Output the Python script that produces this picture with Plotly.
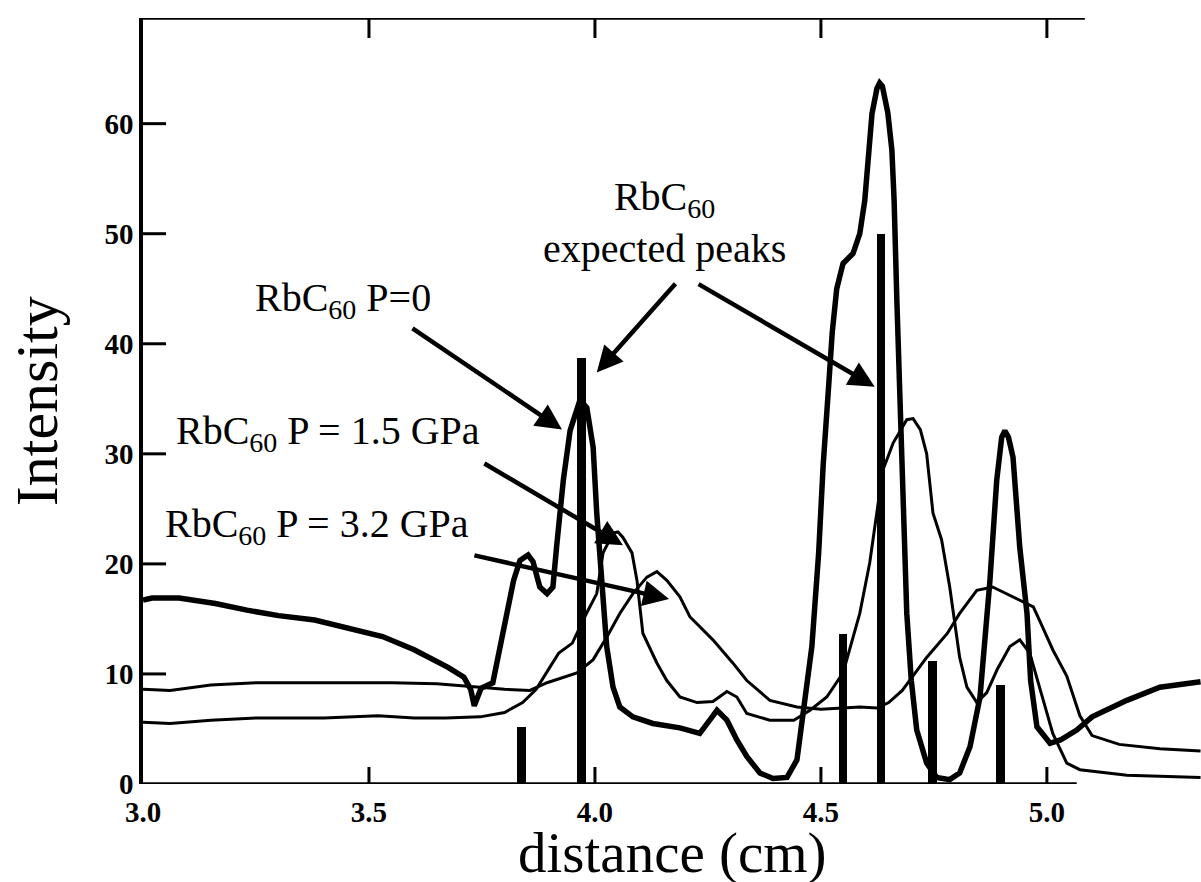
import plotly.graph_objects as go

# --- measured scans: distance (cm) vs intensity ---
x_p0 = [3.00, 3.02, 3.08, 3.16, 3.23, 3.30, 3.38, 3.45, 3.53, 3.60, 3.675, 3.71, 3.725, 3.733,
        3.748, 3.774, 3.79, 3.805, 3.82, 3.834, 3.852, 3.863, 3.878, 3.894, 3.907, 3.915, 3.93,
        3.945, 3.96, 3.967, 3.982, 3.996, 4.004, 4.015, 4.026, 4.04, 4.055, 4.084, 4.128, 4.188,
        4.232, 4.254, 4.27, 4.292, 4.314, 4.336, 4.365, 4.394, 4.425, 4.447, 4.46, 4.48, 4.495,
        4.505, 4.518, 4.525, 4.535, 4.549, 4.571, 4.586, 4.597, 4.608, 4.613, 4.624, 4.630, 4.636,
        4.648, 4.657, 4.662, 4.668, 4.675, 4.682, 4.69, 4.70, 4.712, 4.734, 4.756, 4.785, 4.807,
        4.83, 4.852, 4.874, 4.889, 4.90, 4.907, 4.915, 4.925, 4.94, 4.956, 4.964, 4.978, 5.007,
        5.03, 5.066, 5.10, 5.177, 5.25, 5.34]
y_p0 = [16.7, 16.9, 16.9, 16.4, 15.8, 15.3, 14.9, 14.2, 13.4, 12.2, 10.6, 9.7, 8.6, 7.1,
        8.7, 9.2, 12.5, 15.5, 18.5, 20.3, 20.8, 20.2, 17.9, 17.3, 17.9, 21.5, 27.6,
        32.1, 34.2, 34.9, 34.2, 30.6, 24.6, 18.5, 12.5, 8.8, 7.0, 6.1, 5.5, 5.1,
        4.6, 5.8, 6.7, 5.8, 4.0, 2.5, 1.0, 0.5, 0.6, 2.2, 6.4, 12.5, 21.0,
        29.0, 36.7, 41.0, 45.0, 47.3, 48.2, 50.0, 53.0, 58.5, 60.9, 63.2, 63.7, 63.4,
        61.0, 57.6, 53.0, 44.0, 35.0, 24.6, 15.5, 9.4, 4.9, 1.9, 0.6, 0.4, 1.0,
        3.4, 7.9, 18.5, 27.6, 31.5, 32.1, 31.5, 29.7, 21.5, 15.5, 9.4, 5.2, 3.7,
        4.0, 4.9, 6.1, 7.6, 8.8, 9.3]

x_p15 = [3.00, 3.06, 3.15, 3.25, 3.40, 3.52, 3.60, 3.67, 3.746, 3.80, 3.84, 3.87, 3.90, 3.92,
         3.95, 3.98, 4.004, 4.018, 4.04, 4.051, 4.062, 4.082, 4.093, 4.106, 4.137, 4.159, 4.188,
         4.226, 4.261, 4.292, 4.314, 4.336, 4.387, 4.44, 4.476, 4.513, 4.549, 4.586, 4.608, 4.624,
         4.637, 4.66, 4.69, 4.704, 4.72, 4.734, 4.748, 4.767, 4.785, 4.807, 4.823, 4.845, 4.867,
         4.89, 4.918, 4.94, 4.962, 4.99, 5.013, 5.044, 5.073, 5.177, 5.34]
y_p15 = [5.6, 5.5, 5.8, 6.0, 6.0, 6.2, 6.0, 6.0, 6.1, 6.5, 7.4, 8.6, 10.6, 11.9,
         12.8, 15.4, 17.3, 21.0, 22.8, 22.9, 22.4, 21.0, 18.5, 13.7, 11.0, 9.4, 7.9,
         7.4, 7.5, 8.4, 7.9, 6.4, 5.8, 5.8, 6.7, 7.9, 10.1, 15.5, 20.1, 24.6,
         28.5, 31.0, 33.1, 33.2, 32.2, 30.0, 24.6, 22.2, 17.9, 11.5, 8.8, 7.4, 8.3,
         10.4, 12.5, 13.1, 11.9, 7.9, 4.6, 1.9, 1.3, 0.8, 0.6]

x_p32 = [3.00, 3.06, 3.15, 3.25, 3.40, 3.55, 3.65, 3.746, 3.80, 3.856, 3.894, 3.96, 3.996, 4.027,
         4.055, 4.084, 4.115, 4.137, 4.159, 4.188, 4.21, 4.261, 4.305, 4.336, 4.387, 4.447, 4.50,
         4.586, 4.624, 4.65, 4.68, 4.734, 4.78, 4.807, 4.845, 4.88, 4.925, 4.97, 4.99, 5.013,
         5.044, 5.073, 5.10, 5.16, 5.25, 5.34]
y_p32 = [8.6, 8.5, 9.0, 9.2, 9.2, 9.2, 9.1, 8.8, 8.6, 8.5, 9.2, 10.1, 11.3, 13.4,
         15.5, 17.3, 18.8, 19.3, 18.5, 17.0, 15.2, 13.1, 11.0, 9.4, 7.6, 7.0, 6.8,
         7.0, 6.9, 7.4, 8.5, 11.5, 13.7, 15.5, 17.6, 17.9, 17.0, 16.1, 14.3, 12.2,
         9.8, 6.2, 4.4, 3.6, 3.2, 3.0]

# expected RbC60 reflections (position, relative height)
peak_pos = [3.838, 3.970, 4.549, 4.633, 4.747, 4.897]
peak_height = [5.2, 38.7, 13.6, 50.0, 11.2, 9.0]

x_ticks = [3.0, 3.5, 4.0, 4.5, 5.0]
x_tick_text = ["3.0", "3.5", "4.0", "4.5", "5.0"]
y_ticks = [0, 10, 20, 30, 40, 50, 60]

X_RANGE = [3.0, 5.341]
Y_RANGE = [0, 69.6]
SERIF = "Liberation Serif, Times New Roman, serif"

# plot-area size in pixels, used to turn tick lengths into axis units
PLOT_W = 1201 - 143
PLOT_H = 882 - 18 - 98
X_PER_PX = (X_RANGE[1] - X_RANGE[0]) / PLOT_W
Y_PER_PX = (Y_RANGE[1] - Y_RANGE[0]) / PLOT_H

fig = go.Figure()

fig.add_trace(go.Bar(x=peak_pos, y=peak_height, width=0.019,
                     marker=dict(color="black", line=dict(width=0))))
fig.add_trace(go.Scatter(x=x_p32, y=y_p32, mode="lines",
                         line=dict(color="black", width=3)))
fig.add_trace(go.Scatter(x=x_p15, y=y_p15, mode="lines",
                         line=dict(color="black", width=3)))
fig.add_trace(go.Scatter(x=x_p0, y=y_p0, mode="lines",
                         line=dict(color="black", width=5.5)))

tick_font = dict(family=SERIF, size=29, color="black", weight="bold")

fig.update_layout(
    width=1201, height=882,
    margin=dict(l=143, r=0, t=18, b=98),
    paper_bgcolor="white", plot_bgcolor="white",
    showlegend=False, bargap=0,
    xaxis=dict(range=X_RANGE, tickmode="array", tickvals=x_ticks, ticktext=x_tick_text,
               ticks="", showline=False, showgrid=False, zeroline=False,
               tickfont=tick_font, ticklabelstandoff=8),
    yaxis=dict(range=Y_RANGE, tickmode="array", tickvals=y_ticks, ticks="",
               showline=True, linewidth=3.5, linecolor="black",
               showgrid=False, zeroline=False, tickfont=tick_font),
)

frame = dict(color="black", width=3.5)
tick_line = dict(color="black", width=3)

# bottom and top frame lines stop just past 5.0
fig.add_shape(type="line", xref="x", yref="y", x0=3.0, x1=5.066, y0=0, y1=0, line=frame)
fig.add_shape(type="line", xref="x", yref="y", x0=3.0, x1=5.084,
              y0=Y_RANGE[1], y1=Y_RANGE[1], line=frame)

# inward tick marks: left, bottom and top
for v in y_ticks[1:]:
    fig.add_shape(type="line", xref="x", yref="y", x0=X_RANGE[0], x1=X_RANGE[0] + 23 * X_PER_PX,
                  y0=v, y1=v, line=tick_line)
for v in x_ticks[1:]:
    fig.add_shape(type="line", xref="x", yref="y", x0=v, x1=v,
                  y0=0, y1=17 * Y_PER_PX, line=tick_line)
    fig.add_shape(type="line", xref="x", yref="y", x0=v, x1=v,
                  y0=Y_RANGE[1], y1=Y_RANGE[1] - 20 * Y_PER_PX, line=tick_line)

label_font = dict(family=SERIF, size=40, color="black")
labels = [
    (3.4436, 44.0, "RbC<sub>60</sub> P=0"),
    (3.409, 31.9, "RbC<sub>60</sub> P = 1.5 GPa"),
    (3.384, 23.4, "RbC<sub>60</sub> P = 3.2 GPa"),
    (4.155, 51.0, "RbC<sub>60</sub><br>expected peaks"),
]
for lx, ly, txt in labels:
    fig.add_annotation(x=lx, y=ly, xref="x", yref="y", text=txt, showarrow=False,
                       font=label_font, xanchor="center", yanchor="middle", align="center")

# arrows: (tail x, tail y, head x, head y)
arrows = [
    (3.593, 41.5, 3.927, 32.2),
    (3.752, 29.2, 4.062, 21.7),
    (3.730, 20.8, 4.164, 16.8),
    (4.181, 45.6, 4.004, 37.4),
    (4.226, 45.5, 4.619, 36.1),
]
for tx, ty, hx, hy in arrows:
    fig.add_annotation(x=hx, y=hy, xref="x", yref="y", ax=tx, ay=ty, axref="x", ayref="y",
                       text="", showarrow=True, arrowhead=2, arrowsize=1.15,
                       arrowwidth=4.5, arrowcolor="black", standoff=0, startstandoff=0)

fig.add_annotation(x=0.5, y=-0.046, xref="paper", yref="paper", text="distance (cm)",
                   showarrow=False, font=dict(family=SERIF, size=57, color="black"),
                   xanchor="center", yanchor="top")
fig.add_annotation(x=-0.1, y=0.5, xref="paper", yref="paper", text="Intensity",
                   showarrow=False, textangle=-90,
                   font=dict(family=SERIF, size=60, color="black"),
                   xanchor="center", yanchor="middle")

fig.write_html("out.html")
